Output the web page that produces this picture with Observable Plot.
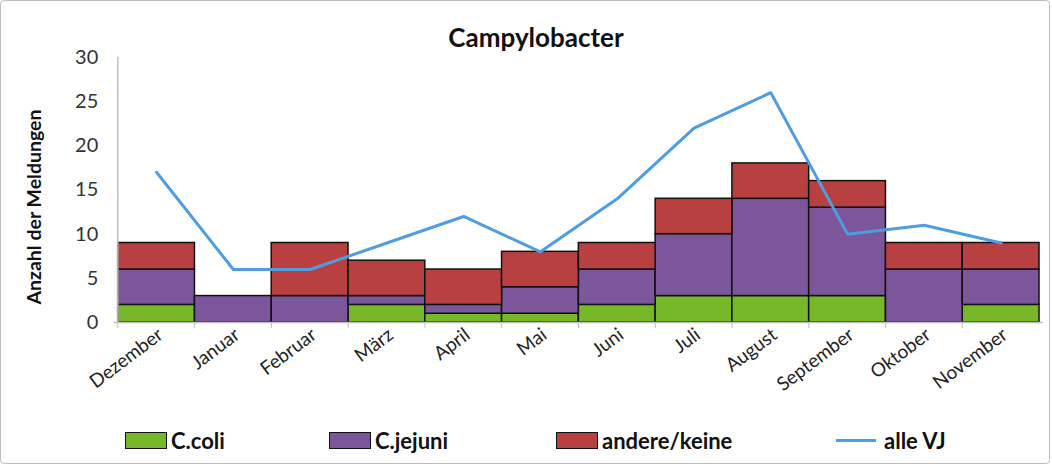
<!DOCTYPE html>
<html><head><meta charset="utf-8">
<script src="https://cdn.jsdelivr.net/npm/d3@7"></script>
<script src="https://cdn.jsdelivr.net/npm/@observablehq/plot@0.6"></script>
<style>
html,body{margin:0;padding:0;background:#fff;}
#wrap{position:relative;width:1050px;height:464px;border:1px solid #bdbdbd;border-radius:4px;box-sizing:border-box;overflow:hidden;font-family:Lato,"Open Sans",sans-serif;}
#chart{position:absolute;left:-1px;top:-1px;}
#title{position:absolute;left:0;width:1070px;top:20px;text-align:center;font-weight:bold;font-size:26px;color:#111;}
#ylab{position:absolute;left:32px;top:206px;transform:translate(-50%,-50%) rotate(-90deg);font-weight:bold;font-size:19.5px;white-space:nowrap;color:#111;}
#legend{position:absolute;top:426px;left:0;width:1050px;height:28px;font-weight:bold;font-size:22px;color:#111;}
.li{position:absolute;display:flex;align-items:center;}
.sw{width:40px;height:15px;border:1.5px solid #111;margin-right:4px;}
.ln{width:40px;height:3px;background:#4f9de0;margin-right:8px;}
</style></head>
<body>
<div id="wrap">
<div id="chart"></div>
<div id="title">Campylobacter</div>
<div id="ylab">Anzahl der Meldungen</div>
<div id="legend"></div>
</div>
<script>
const months = ["Dezember","Januar","Februar","März","April","Mai","Juni","Juli","August","September","Oktober","November"];
const series = ["C.coli","C.jejuni","andere/keine"];
const coli   = [2,0,0,2,1,1,2,3,3,3,0,2];
const jejuni = [4,3,3,1,1,3,4,7,11,10,6,4];
const andere = [3,0,6,4,4,4,3,4,4,3,3,3];
const alleVJ = [17,6,6,9,12,8,14,22,26,10,11,9];
const yTicks = [0,5,10,15,20,25,30];
const colors = ["#76b82a","#7b569b","#b94040"];
const lineColor = "#4f9de0";

const rows = [];
const vals = [coli, jejuni, andere];
series.forEach((s, si) => months.forEach((m, mi) => rows.push({month: m, series: s, value: vals[si][mi]})));
const lineRows = months.map((m, i) => ({month: m, value: alleVJ[i]}));

const W = 1052, H = 412, mL = 114, mR = 6;
const bw = (W - mL - mR) / months.length;

const plot = Plot.plot({
  width: W, height: H,
  marginLeft: mL, marginRight: mR, marginTop: 57, marginBottom: H - 323,
  style: {fontFamily: "Lato, 'Open Sans', sans-serif", background: "transparent"},
  x: {type: "band", domain: months, padding: 0, label: null},
  y: {domain: [0, 30], label: null},
  color: {domain: series, range: colors},
  marks: [
    Plot.gridY(yTicks, {stroke: "#bfbfbf", strokeOpacity: 1, strokeWidth: 1.5, x1: -6}),
    Plot.axisY(yTicks, {tickSize: 0, tickPadding: 16, fontSize: 20, fill: "#333", label: null}),
    Plot.barY(rows, Plot.stackY({x: "month", y: "value", fill: "series", order: series, stroke: "#111", strokeWidth: 1.5})),
    Plot.ruleX([0], {stroke: "#bfbfbf", strokeWidth: 1.5, x: () => months[0], dx: -bw / 2}),
    Plot.ruleY([0], {stroke: "#bfbfbf", strokeWidth: 1.5}),
    Plot.axisX({tickSize: 6, tickFormat: () => "", stroke: "#bfbfbf", dx: -bw / 2}),
    Plot.axisX({tickSize: 0, tickRotate: -37, tickPadding: 10, fontSize: 19, fill: "#222", textAnchor: "end", dx: 4, label: null}),
    Plot.lineY(lineRows, {x: "month", y: "value", stroke: lineColor, strokeWidth: 3})
  ]
});
document.getElementById("chart").appendChild(plot);

const legendItems = [
  {label: "C.coli", color: colors[0], left: 124, type: "sw"},
  {label: "C.jejuni", color: colors[1], left: 328, type: "sw"},
  {label: "andere/keine", color: colors[2], left: 555, type: "sw"},
  {label: "alle VJ", color: lineColor, left: 835, type: "ln"}
];
const lg = document.getElementById("legend");
legendItems.forEach(it => {
  const d = document.createElement("div");
  d.className = "li"; d.style.left = it.left + "px";
  const s = document.createElement("div");
  s.className = it.type;
  s.style.background = it.color;
  d.appendChild(s);
  const t = document.createElement("span"); t.textContent = it.label;
  d.appendChild(t);
  lg.appendChild(d);
});
</script>
</body></html>
